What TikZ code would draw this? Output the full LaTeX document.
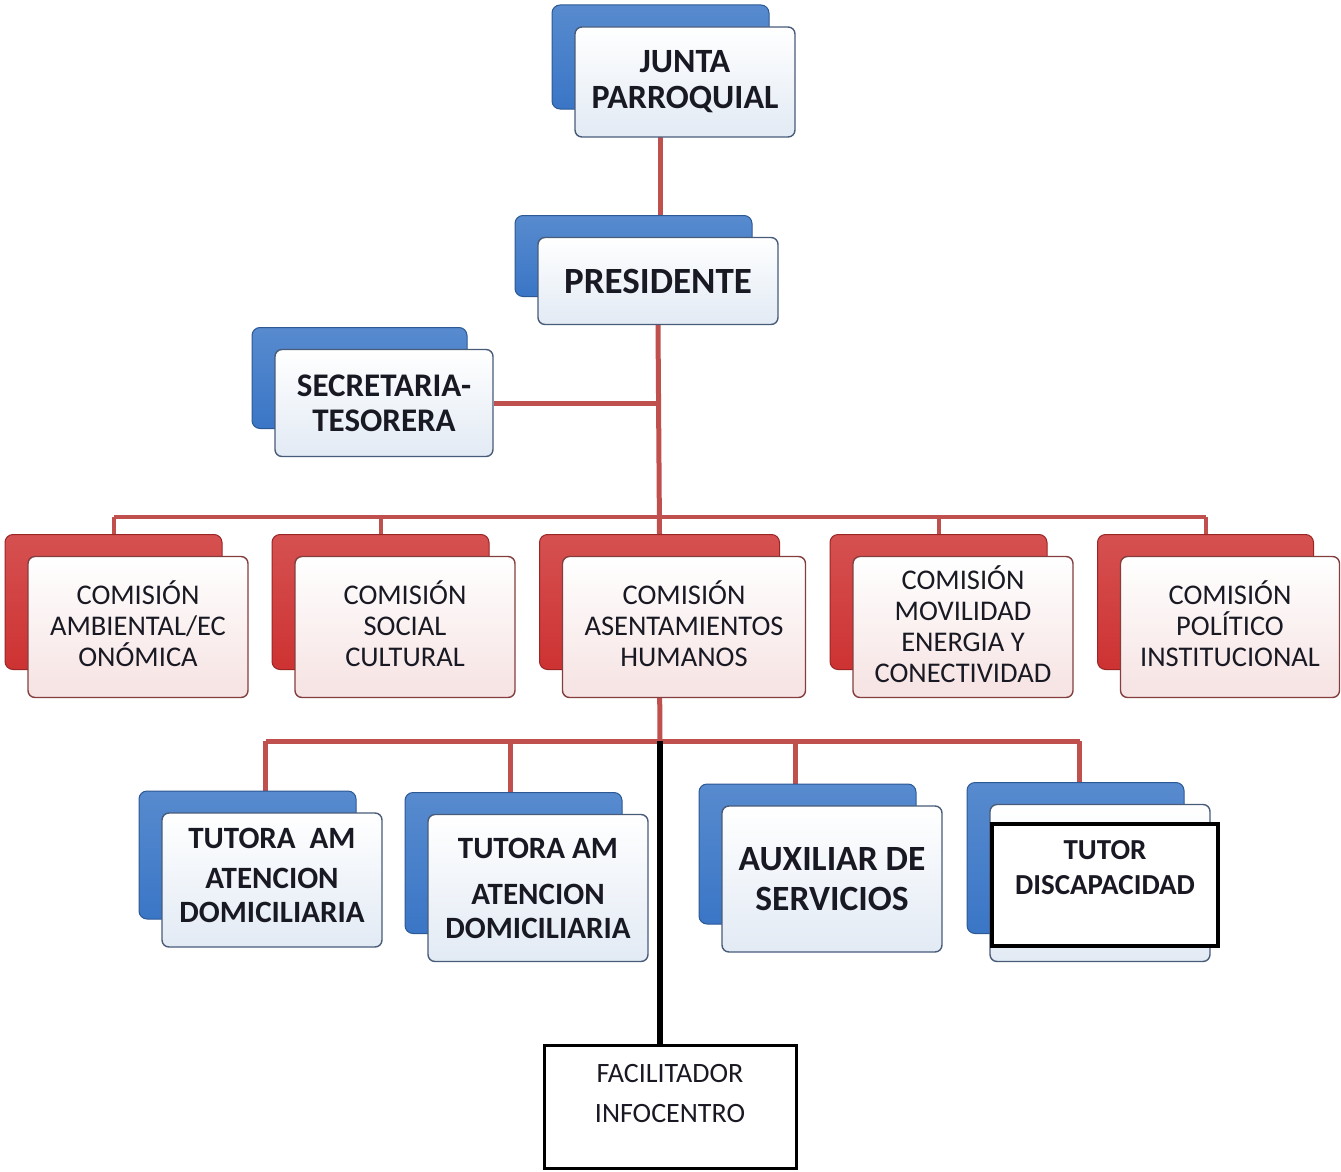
\documentclass[tikz,border=0pt]{standalone}
\usepackage{fontspec}
\setmainfont{Carlito}
\usetikzlibrary{backgrounds}

\definecolor{linered}{RGB}{192,80,77}
\definecolor{cardblue}{RGB}{58,118,198}
\definecolor{cardred}{RGB}{206,50,50}
\definecolor{edgeblue}{RGB}{72,92,122}
\definecolor{edgered}{RGB}{132,62,62}
\definecolor{tintblue}{RGB}{226,234,244}
\definecolor{tintred}{RGB}{246,226,226}
\definecolor{textdark}{RGB}{25,25,35}

\newcommand{\txtsize}[2]{\fontsize{#1}{#2}\selectfont}
% back card, then front card on top of it
\newcommand{\card}[8]{%
  \node[backbox=#6, minimum width=#4pt-3pt, minimum height=#5pt-6pt] (#1-b) at (#2-24.5,#3-25) {};
  \node[frontbox=#6, font=#7, minimum width=#4pt, minimum height=#5pt] (#1) at (#2,#3) {#8};}

\begin{document}
\begin{tikzpicture}[x=1pt,y=-1pt,
    redline/.style={draw=linered, line width=5pt},
    backbox/.style={rounded corners=8pt, top color=card#1!85!white, bottom color=card#1, draw=card#1!75!black, line width=1pt},
    frontbox/.style={rounded corners=7pt, draw=edge#1, line width=1.4pt, top color=white, bottom color=tint#1, text=textdark, align=center, inner sep=0pt},
    plainbox/.style={draw=black, fill=white, text=textdark, align=center, inner sep=0pt}]
    \useasboundingbox (0,0) rectangle (1341,1172);

    \card{junta}{685}{82}{220}{110}{blue}{\txtsize{34}{36}\bfseries}{JUNTA\\PARROQUIAL}
    \card{pres}{658}{281}{240}{87}{blue}{\txtsize{37}{40}\bfseries}{PRESIDENTE}
    \card{secre}{384}{403}{218}{107}{blue}{\txtsize{33}{35}\bfseries}{SECRETARIA-\\TESORERA}

    \card{com1}{138}{627}{220}{141}{red}{\txtsize{28.5}{31}}{COMISIÓN\\AMBIENTAL/EC\\ONÓMICA\\[-25pt]\mbox{}}
    \card{com2}{405}{627}{220}{141}{red}{\txtsize{28.5}{31}}{COMISIÓN\\SOCIAL\\CULTURAL\\[-25pt]\mbox{}}
    \card{com3}{684}{627}{243}{141}{red}{\txtsize{28.5}{31}}{COMISIÓN\\ASENTAMIENTOS\\HUMANOS\\[-25pt]\mbox{}}
    \card{com4}{963}{627}{220}{141}{red}{\txtsize{28.5}{31}}{COMISIÓN\\MOVILIDAD\\ENERGIA Y\\CONECTIVIDAD\\[-25pt]\mbox{}}
    \card{com5}{1230}{627}{219}{141}{red}{\txtsize{28.5}{31}}{COMISIÓN\\POLÍTICO\\INSTITUCIONAL\\[-25pt]\mbox{}}

    \card{tut1}{272}{880}{220}{134}{blue}{\txtsize{31}{34}\bfseries}{TUTORA~~AM\\[6pt]ATENCION\\DOMICILIARIA\\[-24pt]\mbox{}}
    \card{tut2}{538}{888}{220}{147}{blue}{\txtsize{31}{34}\bfseries}{TUTORA AM\\[12pt]ATENCION\\DOMICILIARIA}
    \card{aux}{832}{879}{220}{146}{blue}{\txtsize{35.5}{40}\bfseries}{AUXILIAR DE\\SERVICIOS}
    \card{disc}{1100}{883}{220}{157}{blue}{}{}
    \node[plainbox, line width=4pt, minimum width=226pt, minimum height=122pt, font=\txtsize{29}{35}\bfseries] (discbox)
        at (1105,885) {TUTOR\\DISCAPACIDAD\\\mbox{}};

    \node[plainbox, line width=3pt, minimum width=252pt, minimum height=123pt, font=\txtsize{28}{40}] (faci)
        at (670,1107) {FACILITADOR\\INFOCENTRO\\[-12pt]\mbox{}};

    % connectors
    \begin{scope}[on background layer]
        \coordinate (bus1) at (660,517);
        \coordinate (bus2) at (660,741);
        \draw[redline] (junta-b.south) -- (junta-b.south |- pres.north);
        \draw[redline] (pres.south) -- (com3-b.north);
        \draw[redline] (secre.east) -- (secre.east -| pres.south);
        \draw[redline, line width=4pt] (com1-b.north |- bus1) -- (com5-b.north |- bus1);
        \foreach \n in {com1,com2,com4,com5}
            \draw[redline, line width=4pt] (\n-b.north) -- (\n-b.north |- bus1);
        \draw[redline] (com3-b.south) -- (bus2);
        \foreach \n/\dx in {tut1/18,tut2/-3,aux/-12,disc/4}
            \coordinate (\n-top) at ([xshift=\dx pt]\n-b.north);
        \draw[redline] (tut1-top |- bus2) -- (disc-top |- bus2);
        \foreach \n in {tut1,tut2,aux,disc}
            \draw[redline] (\n-top) -- (\n-top |- bus2);
        \draw[line width=6pt] (bus2) -- (bus2 |- faci.north);
    \end{scope}
\end{tikzpicture}
\end{document}
